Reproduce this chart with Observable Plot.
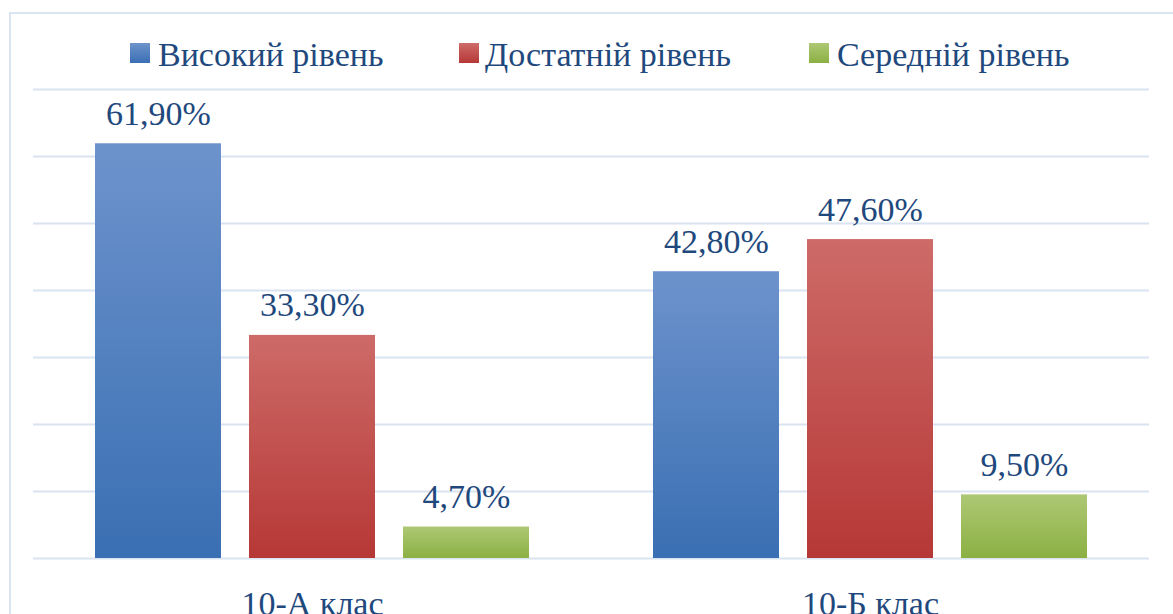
<!DOCTYPE html>
<html><head><meta charset="utf-8">
<script src="https://cdn.jsdelivr.net/npm/d3@7"></script>
<script src="https://cdn.jsdelivr.net/npm/@observablehq/plot@0.6"></script>
<style>
body{margin:0;background:#fff;overflow:hidden}
#wrap{position:relative;width:1173px;height:614px;overflow:hidden;font-family:'Liberation Serif',serif;color:#1f497d}
#border{position:absolute;left:9px;top:12px;width:1300px;height:800px;border:2px solid #dbe4f1;box-sizing:border-box}
.sw{position:absolute;top:43px;width:20px;height:20px}
.lt{position:absolute;top:38px;font-family:'Liberation Serif',serif;font-size:34px;line-height:1;white-space:nowrap}
#chart{position:absolute;left:0;top:0}
</style></head>
<body>
<div id="wrap">
<svg width="0" height="0" style="position:absolute">
<defs>
<linearGradient id="gB" x1="0" y1="0" x2="0" y2="1"><stop offset="0" stop-color="#6d93cc"/><stop offset="1" stop-color="#3a6fb3"/></linearGradient>
<linearGradient id="gR" x1="0" y1="0" x2="0" y2="1"><stop offset="0" stop-color="#cd6b68"/><stop offset="1" stop-color="#b63836"/></linearGradient>
<linearGradient id="gG" x1="0" y1="0" x2="0" y2="1"><stop offset="0" stop-color="#aec874"/><stop offset="1" stop-color="#8bb043"/></linearGradient>
</defs>
</svg>
<div id="border"></div>
<div id="chart"></div>
<div id="legend"></div>
</div>
<script>
const classes = ["10-А клас", "10-Б клас"];
const levels = ["Високий рівень", "Достатній рівень", "Середній рівень"];
const valuesA = [61.9, 33.3, 4.7];
const valuesB = [42.8, 47.6, 9.5];
const gridTicks = [0, 10, 20, 30, 40, 50, 60, 70];
const fills = ["url(#gB)", "url(#gR)", "url(#gG)"];
const swatchCss = ["linear-gradient(#6d93cc,#3a6fb3)", "linear-gradient(#cd6b68,#b63836)", "linear-gradient(#aec874,#8bb043)"];

const series = [valuesA, valuesB];
const data = [];
classes.forEach((c, i) => levels.forEach((l, j) => data.push({cls: c, level: l, value: series[i][j]})));
const fmt = v => v.toFixed(2).replace(".", ",") + "%";
const font = "'Liberation Serif', serif";
const ink = "#1f497d";

const chart = Plot.plot({
  width: 1173, height: 614,
  marginLeft: 33, marginRight: 24, marginTop: 89, marginBottom: 56,
  style: {fontFamily: font, background: "transparent", overflow: "visible"},
  fx: {domain: classes, padding: 0, label: null},
  x: {domain: levels, axis: null, paddingInner: 0.184, paddingOuter: 0.398},
  y: {domain: [0, 70], axis: null},
  color: {domain: levels, range: fills},
  marks: [
    Plot.ruleY(gridTicks, {stroke: "#d9e3f1", strokeWidth: 2}),
    Plot.barY(data, {fx: "cls", x: "level", y: "value", fill: "level"}),
    Plot.text(data, {fx: "cls", x: "level", y: "value", text: d => fmt(d.value), lineAnchor: "bottom", dy: -19, fill: ink, fontSize: 34, fontFamily: font}),
    Plot.axisFx({anchor: "bottom", tickSize: 0, tickPadding: 32, fontSize: 34, fill: ink, label: null, fontFamily: font})
  ]
});
document.getElementById("chart").appendChild(chart);

const swPos = [130, 459, 809];
const txtPos = [158, 485, 837];
const legend = document.getElementById("legend");
levels.forEach((l, i) => {
  const s = document.createElement("div");
  s.className = "sw";
  s.style.left = swPos[i] + "px";
  s.style.background = swatchCss[i];
  const t = document.createElement("div");
  t.className = "lt";
  t.style.left = txtPos[i] + "px";
  t.textContent = l;
  legend.appendChild(s);
  legend.appendChild(t);
});
</script>
</body></html>
